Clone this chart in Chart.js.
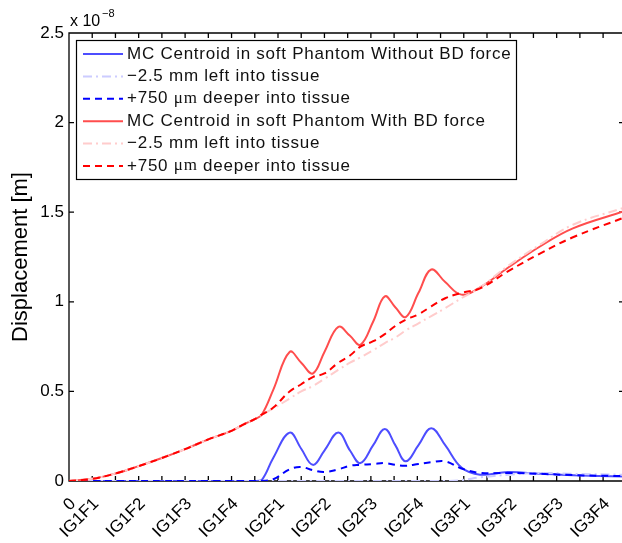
<!DOCTYPE html>
<html>
<head>
<meta charset="utf-8">
<script src="https://cdn.jsdelivr.net/npm/chart.js@4.4.1/dist/chart.umd.min.js"></script>
<style>
  html, body { margin: 0; padding: 0; background: #fff; overflow: hidden; }
  #wrap { width: 626px; height: 543px; }
</style>
</head>
<body>
<div id="wrap"><canvas id="c" width="626" height="543"></canvas></div>
<script>
// Insertion stages: x in tick units, labels sit on odd ticks
const groupLabels = ['IG1F1', 'IG1F2', 'IG1F3', 'IG1F4', 'IG2F1', 'IG2F2',
                     'IG2F3', 'IG2F4', 'IG3F1', 'IG3F2', 'IG3F3', 'IG3F4'];

const xPositions = [0, 1, 2, 3, 4, 5, 6, 7, 7.5, 8, 8.3, 8.8, 9.5, 10, 10.5, 11, 11.6, 12.1,
                    12.55, 13.1, 13.6, 14.05, 14.5, 15.05, 15.6, 16.2, 16.9, 17.7, 18.9, 20.3, 21.7, 23.9];

// Displacement, units of 1e-8 m
const noBdCentroid = [0, 0, 0, 0, 0, 0, 0, 0, 0, 0, 0.005, 0.13, 0.27, 0.18, 0.09, 0.17, 0.27, 0.17,
                      0.10, 0.20, 0.29, 0.20, 0.11, 0.20, 0.295, 0.20, 0.075, 0.035, 0.05, 0.04, 0.032, 0.025];
const noBdLeft     = [0, 0, 0, 0, 0, 0, 0, 0, 0, 0, 0, 0, 0, 0, 0, 0, 0, 0,
                      0, 0, 0, 0, 0, 0, 0, 0, 0.005, 0.02, 0.035, 0.045, 0.04, 0.035];
const noBdDeeper   = [0, 0, 0, 0, 0, 0, 0, 0, 0, 0, 0, 0.01, 0.065, 0.078, 0.06, 0.05, 0.065, 0.085,
                      0.09, 0.095, 0.10, 0.09, 0.085, 0.095, 0.105, 0.11, 0.07, 0.045, 0.045, 0.04, 0.033, 0.027];
const bdCentroid   = [0, 0.012, 0.042, 0.083, 0.128, 0.178, 0.232, 0.28, 0.315, 0.345, 0.37, 0.51, 0.72, 0.66, 0.60, 0.72, 0.86, 0.81,
                      0.76, 0.89, 1.03, 0.97, 0.915, 1.05, 1.18, 1.11, 1.04, 1.08, 1.19, 1.31, 1.41, 1.505];
const bdLeft       = [0, 0.012, 0.042, 0.083, 0.128, 0.178, 0.232, 0.28, 0.315, 0.345, 0.37, 0.405, 0.46, 0.50, 0.53, 0.57, 0.62, 0.66,
                      0.69, 0.73, 0.77, 0.80, 0.84, 0.88, 0.92, 0.965, 1.02, 1.08, 1.20, 1.32, 1.43, 1.525];
const bdDeeper     = [0, 0.012, 0.042, 0.083, 0.128, 0.178, 0.232, 0.28, 0.315, 0.345, 0.37, 0.41, 0.50, 0.54, 0.58, 0.60, 0.66, 0.70,
                      0.75, 0.78, 0.82, 0.865, 0.90, 0.93, 0.975, 1.02, 1.05, 1.075, 1.17, 1.27, 1.36, 1.47];

const seriesLabels = [
  'MC Centroid in soft Phantom Without BD force',
  '\u22122.5 mm left into tissue',
  '+750 \u03bcm deeper into tissue',
  'MC Centroid in soft Phantom With BD force',
  '\u22122.5 mm left into tissue',
  '+750 \u03bcm deeper into tissue'
];

const SANS = '"Liberation Sans", Arial, Helvetica, sans-serif';
const SERIF = '"Liberation Serif", "Times New Roman", serif';

function pts(values) {
  return xPositions.map((x, i) => ({ x: x, y: values[i] }));
}

const styles = [
  { color: 'rgb(77,77,255)',   dash: [] },
  { color: 'rgb(204,204,255)', dash: [9, 4, 2, 4] },
  { color: 'rgb(0,0,255)',     dash: [7, 5] },
  { color: 'rgb(255,77,77)',   dash: [] },
  { color: 'rgb(255,204,204)', dash: [9, 4, 2, 4] },
  { color: 'rgb(255,0,0)',     dash: [7, 5] }
];
const seriesValues = [noBdCentroid, noBdLeft, noBdDeeper, bdCentroid, bdLeft, bdDeeper];

const datasets = seriesValues.map((vals, i) => ({
  label: seriesLabels[i],
  data: pts(vals),
  borderColor: styles[i].color,
  borderDash: styles[i].dash,
  borderWidth: 2,
  pointRadius: 0,
  fill: false,
  tension: 0.4,
  order: seriesValues.length - i
}));

// Axes box with inward tick marks, drawn beneath the curves
const axesFrame = {
  id: 'axesFrame',
  beforeDatasetsDraw(chart) {
    const { ctx, chartArea: a, scales: { x, y } } = chart;
    ctx.save();
    ctx.strokeStyle = '#000';
    ctx.lineWidth = 1.3;
    ctx.beginPath();
    ctx.rect(a.left, a.top, a.right - a.left, a.bottom - a.top);
    x.ticks.forEach(t => {
      const px = x.getPixelForValue(t.value);
      ctx.moveTo(px, a.bottom); ctx.lineTo(px, a.bottom - 5);
      ctx.moveTo(px, a.top);    ctx.lineTo(px, a.top + 5);
    });
    y.ticks.forEach(t => {
      const py = y.getPixelForValue(t.value);
      ctx.moveTo(a.left, py);  ctx.lineTo(a.left + 5, py);
      ctx.moveTo(a.right, py); ctx.lineTo(a.right - 5, py);
    });
    ctx.stroke();

    // exponent of the y axis
    ctx.fillStyle = '#000';
    ctx.textAlign = 'left';
    ctx.textBaseline = 'alphabetic';
    ctx.font = '16px ' + SANS;
    ctx.fillText('x 10', a.left + 1, 26);
    ctx.font = '11px ' + SANS;
    ctx.fillText('\u22128', a.left + 33, 17);
    ctx.restore();
  }
};

// Boxed legend in the upper-left of the plot area
const boxLegend = {
  id: 'boxLegend',
  afterDatasetsDraw(chart) {
    const ctx = chart.ctx;
    const L = 76.5, T = 40.5, R = 516.5, B = 179.5;
    ctx.save();
    ctx.fillStyle = '#fff';
    ctx.fillRect(L, T, R - L, B - T);
    ctx.strokeStyle = '#000';
    ctx.lineWidth = 1.2;
    ctx.strokeRect(L, T, R - L, B - T);
    chart.data.datasets.forEach((ds, i) => {
      const cy = 54 + i * 22.4;
      ctx.strokeStyle = ds.borderColor;
      ctx.lineWidth = ds.borderWidth;
      ctx.setLineDash(ds.borderDash || []);
      ctx.beginPath();
      ctx.moveTo(83, cy);
      ctx.lineTo(123, cy);
      ctx.stroke();
      ctx.setLineDash([]);

      ctx.fillStyle = '#111';
      ctx.textBaseline = 'middle';
      ctx.textAlign = 'left';
      if ('letterSpacing' in ctx) ctx.letterSpacing = '0.75px';
      let tx = 127;
      const parts = ds.label.split('\u03bcm');
      parts.forEach((p, k) => {
        if (k > 0) {
          ctx.font = '17px ' + SERIF;
          ctx.fillText('\u03bcm', tx, cy);
          tx += ctx.measureText('\u03bcm').width;
        }
        ctx.font = '17px ' + SANS;
        ctx.fillText(p, tx, cy);
        tx += ctx.measureText(p).width;
      });
    });
    ctx.restore();
  }
};

Chart.defaults.font.family = SANS;
Chart.defaults.color = '#000';

new Chart(document.getElementById('c'), {
  type: 'line',
  data: { datasets: datasets },
  options: {
    responsive: false,
    animation: false,
    events: [],
    layout: { padding: { top: 33, right: 2, left: 0, bottom: 0 } },
    plugins: { legend: { display: false }, tooltip: { enabled: false } },
    scales: {
      x: {
        type: 'linear',
        min: 0,
        max: 23.9,
        grid: { display: false, drawTicks: false },
        border: { display: false },
        ticks: {
          stepSize: 1,
          autoSkip: false,
          includeBounds: false,
          minRotation: 45,
          maxRotation: 45,
          padding: 13,
          labelOffset: 4,
          font: { size: 17 },
          callback: (v) => v === 0 ? '0' : (v % 2 === 1 ? groupLabels[(v - 1) / 2] : '')
        },
        afterFit(s) { s.height = 62; s.paddingLeft = 0; s.paddingRight = 0; }
      },
      y: {
        min: 0,
        max: 2.5,
        grid: { display: false, drawTicks: false },
        border: { display: false },
        ticks: {
          stepSize: 0.5,
          padding: 5,
          font: { size: 17 },
          callback: (v) => String(Number(v.toFixed(1)))
        },
        title: {
          display: true,
          text: 'Displacement [m]',
          font: { size: 22 },
          padding: { top: 8, bottom: 0 }
        },
        afterFit(s) { s.width = 69; s.paddingTop = 0; s.paddingBottom = 0; }
      }
    }
  },
  plugins: [axesFrame, boxLegend]
});
</script>
</body>
</html>
